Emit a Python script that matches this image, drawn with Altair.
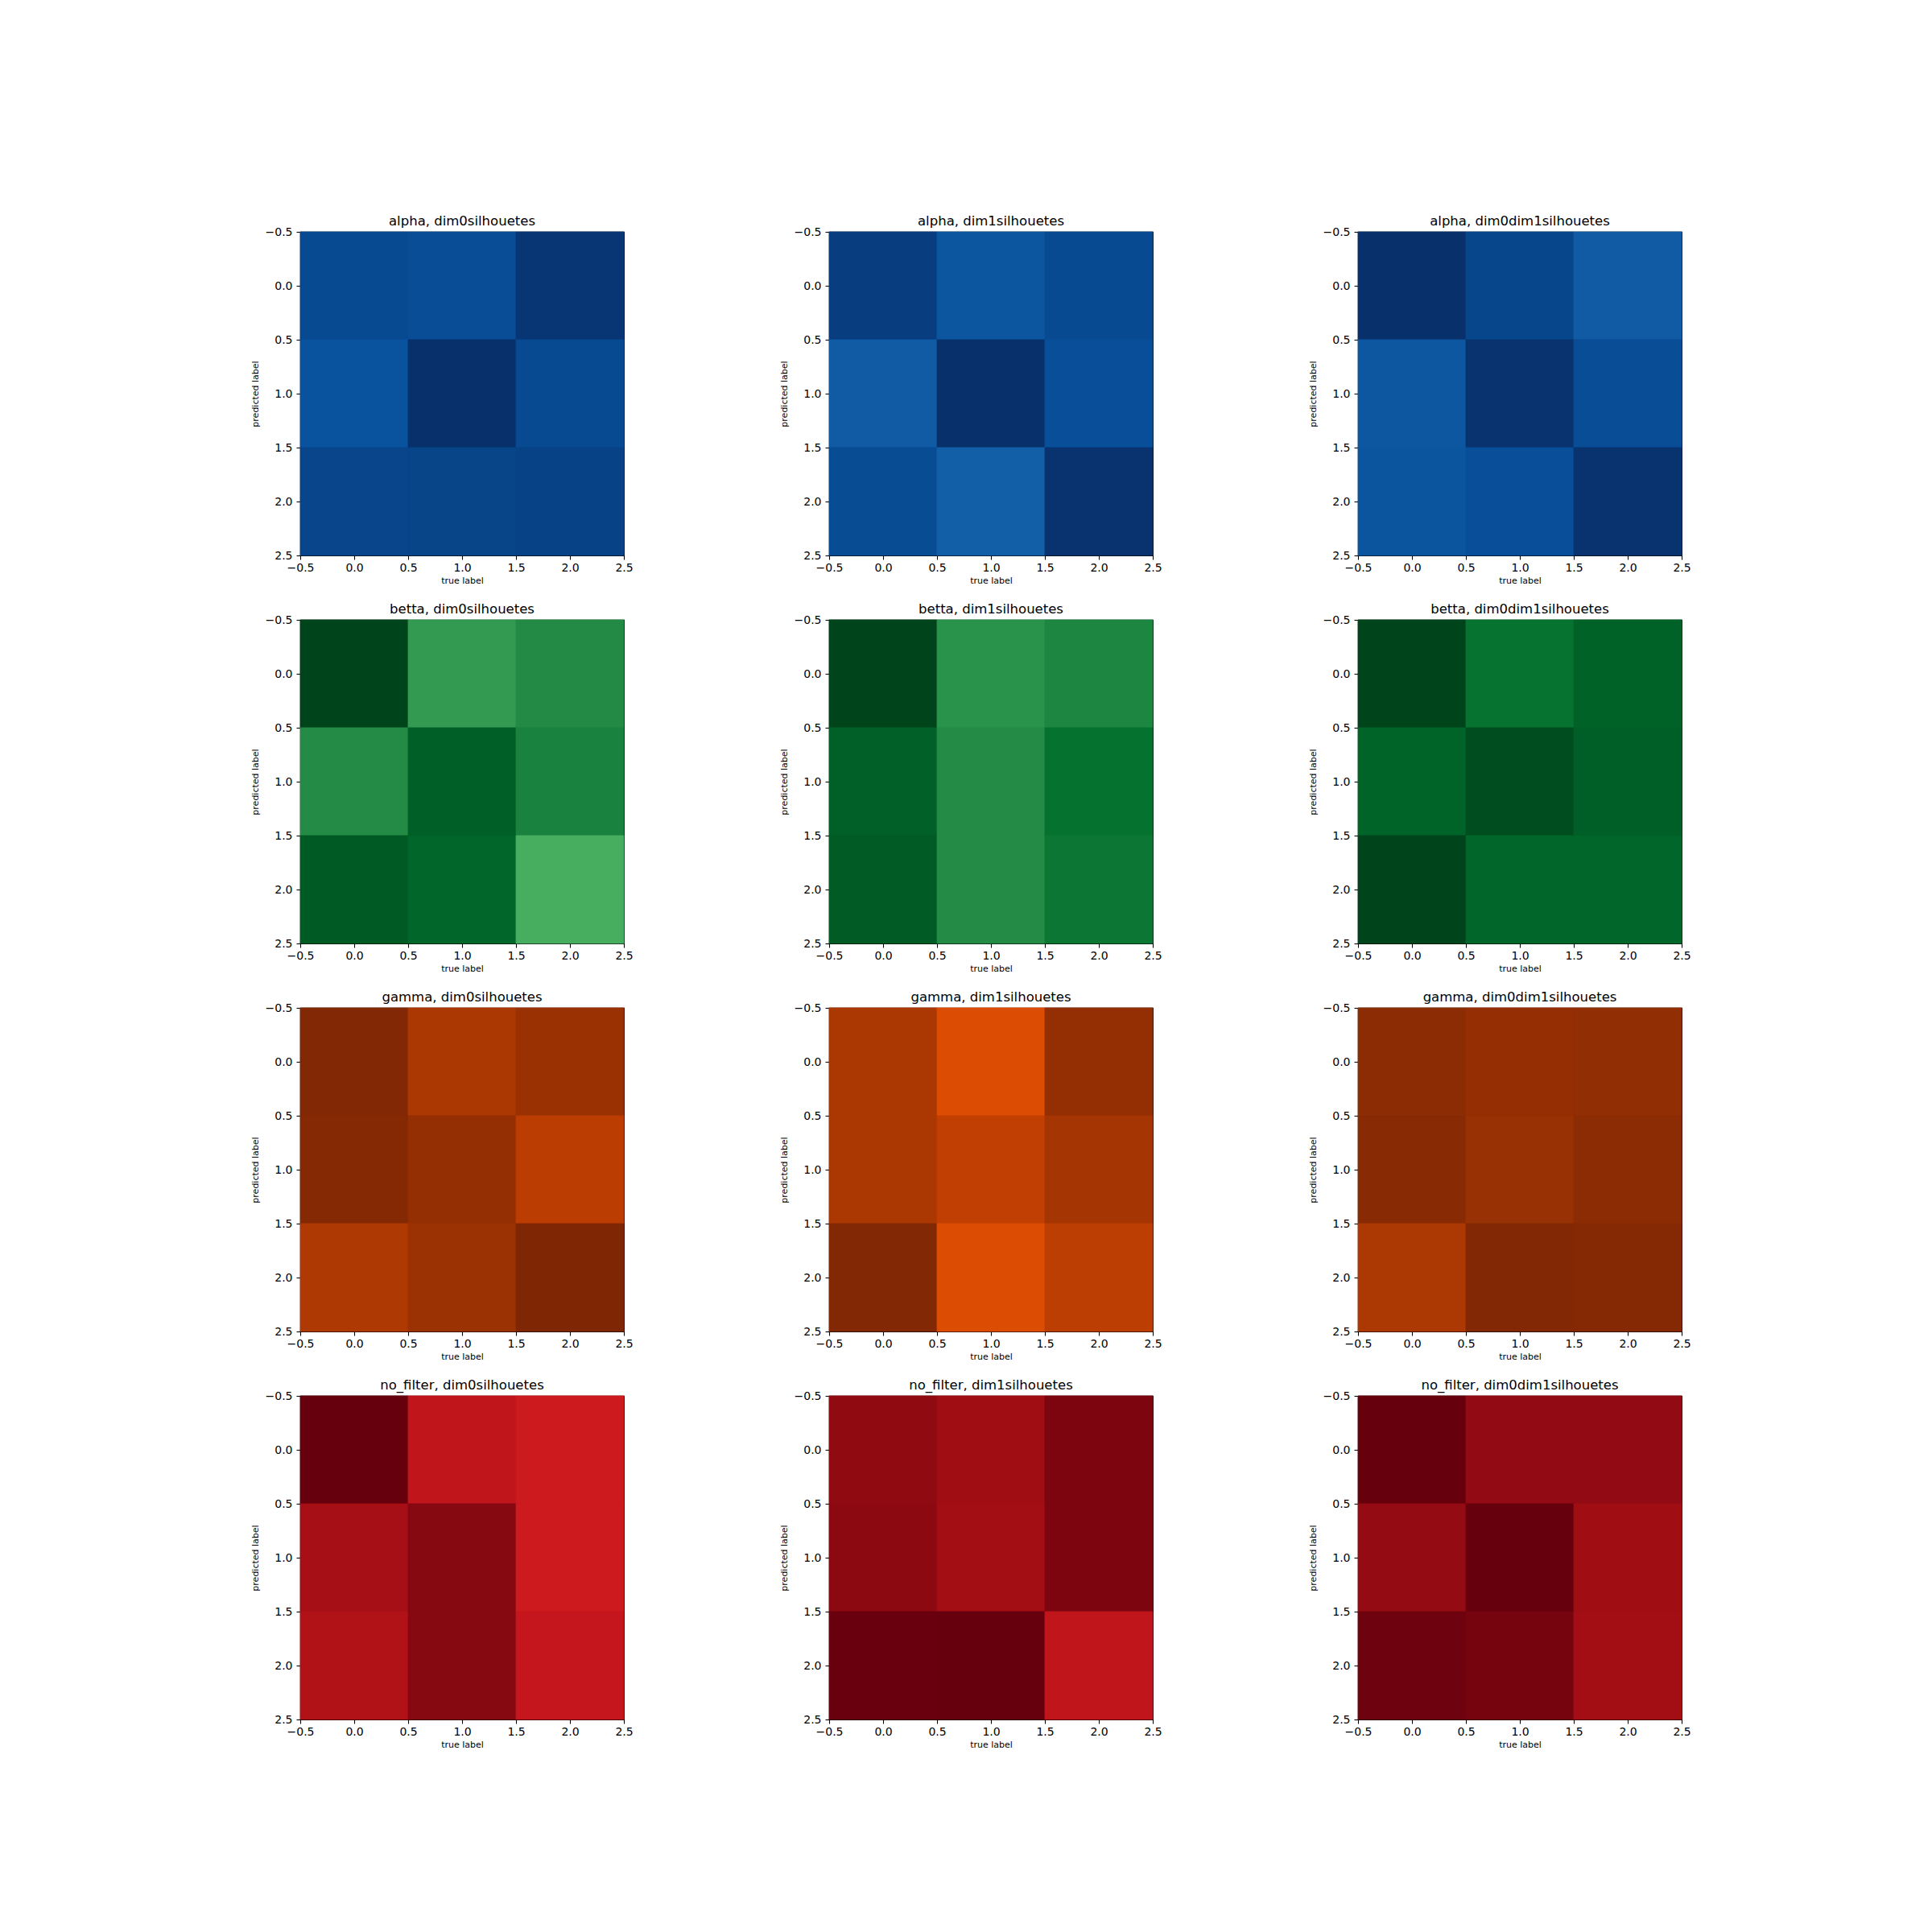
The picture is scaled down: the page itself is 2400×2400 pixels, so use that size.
import altair as alt
import pandas as pd

# ---- data (estimated cell intensities on the colormap, 0..1) ----
filters = ["alpha", "betta", "gamma", "no_filter"]
dims = ["dim0silhouetes", "dim1silhouetes", "dim0dim1silhouetes"]
labels = [0, 1, 2]
tick_values = [-0.5, 0.0, 0.5, 1.0, 1.5, 2.0, 2.5]

alpha_dim0 = [[0.90, 0.89, 0.98], [0.87, 1.00, 0.90], [0.92, 0.925, 0.93]]
alpha_dim1 = [[0.947, 0.855, 0.90], [0.836, 1.00, 0.886], [0.895, 0.82, 0.99]]
alpha_dim0dim1 = [[1.00, 0.917, 0.836], [0.85, 0.99, 0.89], [0.86, 0.885, 0.99]]
betta_dim0 = [[1.00, 0.6875, 0.755], [0.75, 0.918, 0.7875], [0.933, 0.896, 0.61]]
betta_dim1 = [[1.00, 0.719, 0.77], [0.915, 0.75, 0.854], [0.93, 0.75, 0.833]]
betta_dim0dim1 = [[1.00, 0.85, 0.91], [0.905, 0.97, 0.918], [1.00, 0.895, 0.895]]
gamma_dim0 = [[0.99, 0.863, 0.913], [0.98, 0.936, 0.823], [0.855, 0.91, 1.00]]
gamma_dim1 = [[0.863, 0.734, 0.936], [0.863, 0.81, 0.877], [0.99, 0.734, 0.82]]
gamma_dim0dim1 = [[0.958, 0.93, 0.94], [0.97, 0.92, 0.958], [0.86, 0.99, 0.98]]
nofilter_dim0 = [[1.00, 0.786, 0.743], [0.875, 0.9375, 0.743], [0.836, 0.9375, 0.773]]
nofilter_dim1 = [[0.917, 0.885, 0.958], [0.925, 0.88, 0.956], [0.998, 1.00, 0.786]]
nofilter_dim0dim1 = [[1.00, 0.913, 0.913], [0.907, 1.00, 0.885], [0.985, 0.97, 0.88]]

matrices = [
    [alpha_dim0, alpha_dim1, alpha_dim0dim1],
    [betta_dim0, betta_dim1, betta_dim0dim1],
    [gamma_dim0, gamma_dim1, gamma_dim0dim1],
    [nofilter_dim0, nofilter_dim1, nofilter_dim0dim1],
]

# matplotlib sequential colormaps (ColorBrewer 9-class stops)
cmaps = [
    ["#f7fbff", "#deebf7", "#c6dbef", "#9ecae1", "#6baed6", "#4292c6", "#2171b5", "#08519c", "#08306b"],
    ["#f7fcf5", "#e5f5e0", "#c7e9c0", "#a1d99b", "#74c476", "#41ab5d", "#238b45", "#006d2c", "#00441b"],
    ["#fff5eb", "#fee6ce", "#fdd0a2", "#fdae6b", "#fd8d3c", "#f16913", "#d94801", "#a63603", "#7f2704"],
    ["#fff5f0", "#fee0d2", "#fcbba1", "#fc9272", "#fb6a4a", "#ef3b2c", "#cb181d", "#a50f15", "#67000d"],
]
stops = [i / 8 for i in range(9)]

FONT = "DejaVu Sans"
SIZE = 402


def panel(fi, di):
    m = matrices[fi][di]
    rows = []
    for p in labels:
        for t in labels:
            rows.append({"true": t, "pred": p, "value": m[p][t]})
    df = pd.DataFrame(rows)
    scale_x = alt.Scale(domain=[-0.5, 2.5], nice=False, zero=False)
    scale_y = alt.Scale(domain=[-0.5, 2.5], nice=False, zero=False, reverse=True)
    cscale = alt.Scale(domain=stops, range=cmaps[fi], interpolate="rgb")
    return (
        alt.Chart(df, title=f"{filters[fi]}, {dims[di]}")
        .transform_calculate(
            x0="datum.true - 0.5", x1="datum.true + 0.5",
            y0="datum.pred - 0.5", y1="datum.pred + 0.5",
        )
        .mark_rect(strokeWidth=0.8)
        .encode(
            x=alt.X("x0:Q", scale=scale_x,
                    axis=alt.Axis(values=tick_values, format=".1f", title="true label")),
            x2="x1:Q",
            y=alt.Y("y0:Q", scale=scale_y,
                    axis=alt.Axis(values=tick_values, format=".1f", title="predicted label")),
            y2="y1:Q",
            color=alt.Color("value:Q", scale=cscale, legend=None),
            stroke=alt.Stroke("value:Q", scale=cscale, legend=None),
        )
        .properties(width=SIZE, height=SIZE)
    )


panels = [panel(fi, di) for fi in range(4) for di in range(3)]

chart = (
    alt.concat(*panels, columns=3, spacing={"row": 80, "column": 255}, bounds="flush")
    .resolve_scale(color="independent", stroke="independent", x="independent", y="independent")
    .properties(padding={"left": 310, "top": 265, "right": 20, "bottom": 20}, background="white")
    .configure_view(stroke="black", strokeWidth=1.1)
    .configure_axis(
        grid=False, domain=False,
        tickColor="black", tickSize=5, tickWidth=1.1,
        labelFont=FONT, labelFontSize=14, labelColor="black", labelPadding=5,
        labelFlush=False, labelOverlap=False,
        titleFont=FONT, titleFontSize=11, titleFontWeight="normal", titleColor="black",
    )
    .configure_axisX(titlePadding=3, labelPadding=3)
    .configure_axisY(titlePadding=7)
    .configure_title(font=FONT, fontSize=16.5, fontWeight="normal", color="black",
                     anchor="middle", offset=-2)
)

chart.save("out.html", embed_options={"renderer": "svg", "actions": False})
